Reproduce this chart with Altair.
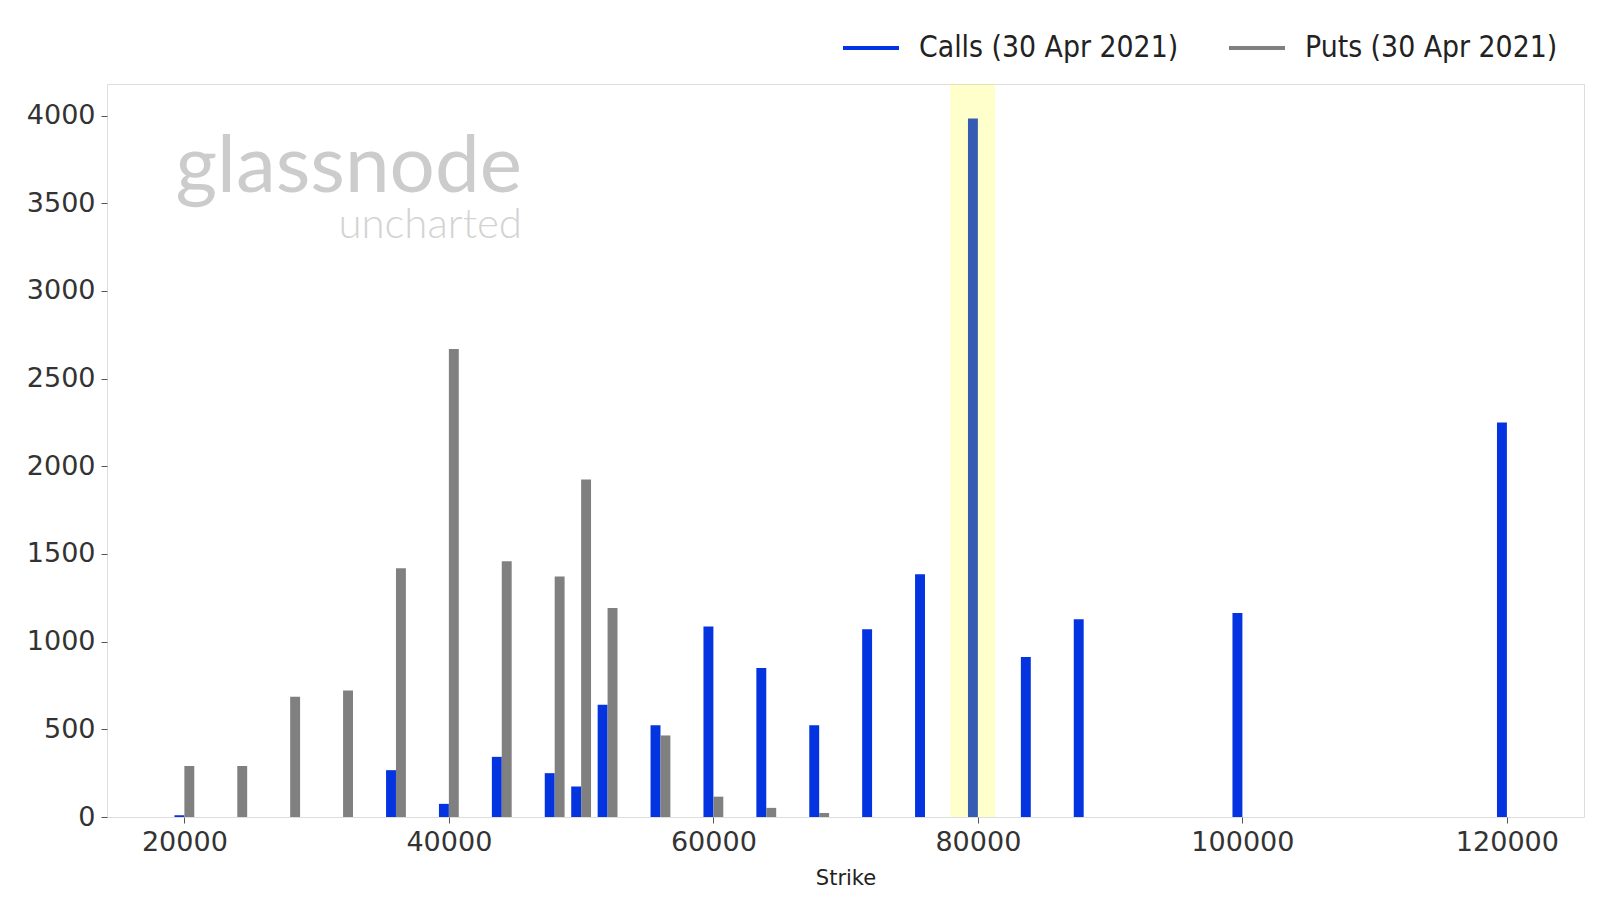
import altair as alt
import pandas as pd

# ---- data ----
call_strikes = [20000, 36000, 40000, 44000, 48000, 50000, 52000, 56000, 60000,
                64000, 68000, 72000, 76000, 80000, 84000, 88000, 100000, 120000]
call_oi = [10, 267, 75, 343, 250, 174, 640, 523, 1087,
           849, 523, 1070, 1384, 3983, 913, 1128, 1163, 2250]

put_strikes = [20000, 24000, 28000, 32000, 36000, 40000, 44000, 48000, 50000,
               52000, 56000, 60000, 64000, 68000]
put_oi = [291, 291, 686, 721, 1419, 2669, 1459, 1372, 1924,
          1192, 465, 116, 52, 23]

series_names = ["Calls (30 Apr 2021)", "Puts (30 Apr 2021)"]
series_colors = ["#0433e0", "#808080"]

highlight = [77900, 81300]
x_ticks = [20000, 40000, 60000, 80000, 100000, 120000]
y_ticks = [0, 500, 1000, 1500, 2000, 2500, 3000, 3500, 4000]

BAR_W = 750

df = pd.concat([
    pd.DataFrame({"strike": call_strikes, "oi": call_oi, "series": series_names[0], "side": -1}),
    pd.DataFrame({"strike": put_strikes, "oi": put_oi, "series": series_names[1], "side": 1}),
], ignore_index=True)

band_df = pd.DataFrame({"x0": [highlight[0]], "x1": [highlight[1]]})

W, H = 1477, 733
xscale = alt.Scale(domain=[14150, 125830], nice=False, zero=False)
yscale = alt.Scale(domain=[0, 4180], nice=False)
cscale = alt.Scale(domain=series_names, range=series_colors)

LFONT = "DejaVu Sans"

bars = alt.Chart(df).transform_calculate(
    a=f"datum.side < 0 ? datum.strike - {BAR_W} : datum.strike",
    b=f"datum.side < 0 ? datum.strike : datum.strike + {BAR_W}",
).mark_bar().encode(
    x=alt.X("a:Q", scale=xscale, title="Strike",
            axis=alt.Axis(values=x_ticks, format="d", grid=False, domain=False,
                          tickColor="#555555", tickSize=6, labelFontSize=27,
                          labelColor="#333333", labelFont=LFONT,
                          titleFontSize=21, titleFont=LFONT, titleFontWeight="normal",
                          titleColor="#222222", labelPadding=6, titlePadding=12)),
    x2="b:Q",
    y=alt.Y("oi:Q", scale=yscale, title=None,
            axis=alt.Axis(values=y_ticks, format="d", grid=False, domain=False,
                          tickColor="#555555", tickSize=6, labelFontSize=27,
                          labelColor="#333333", labelFont=LFONT, labelPadding=6)),
    y2=alt.datum(0),
    color=alt.Color("series:N", scale=cscale, legend=None),
)

legend_layer = alt.Chart(df).transform_filter("false").mark_line(strokeWidth=4).encode(
    x=alt.X("strike:Q", scale=xscale),
    y=alt.Y("oi:Q", scale=yscale),
    color=alt.Color("series:N", scale=cscale,
                    legend=alt.Legend(title=None, orient="none", direction="horizontal",
                                      legendX=734, legendY=-66, labelLimit=0,
                                      symbolType="stroke", symbolSize=3136,
                                      symbolStrokeWidth=4, labelFontSize=29.8,
                                      labelFont="DejaVu Sans Condensed, Liberation Sans Narrow, DejaVu Sans",
                                      labelColor="#222222", columnPadding=42,
                                      labelOffset=18)),
)

band = alt.Chart(band_df).mark_rect(color="#ffff00", opacity=0.2).encode(
    x=alt.X("x0:Q", scale=xscale),
    x2="x1:Q",
    y=alt.value(0),
    y2=alt.value(H),
)

wm1 = alt.Chart(pd.DataFrame({"t": ["glassnode"]})).mark_text(
    font="Lato", fontSize=80, fontWeight="normal", color="#cccccc", align="right", baseline="alphabetic"
).encode(text="t:N", x=alt.value(415), y=alt.value(108))

wm2 = alt.Chart(pd.DataFrame({"t": ["uncharted"]})).mark_text(
    font="Lato", fontSize=42, fontWeight=300, color="#d3d3d3", align="right", baseline="alphabetic"
).encode(text="t:N", x=alt.value(415), y=alt.value(154))

chart = alt.layer(wm1, wm2, bars, band, legend_layer).resolve_legend(
    color="independent"
).properties(
    width=W, height=H,
    autosize=alt.AutoSizeParams(type="none"),
    padding={"left": 99, "top": 76, "right": 4, "bottom": 71},
).configure_view(stroke="#666666", strokeWidth=2).configure(background="white")

chart.save("out.html", embed_options={"renderer": "svg", "actions": False})
